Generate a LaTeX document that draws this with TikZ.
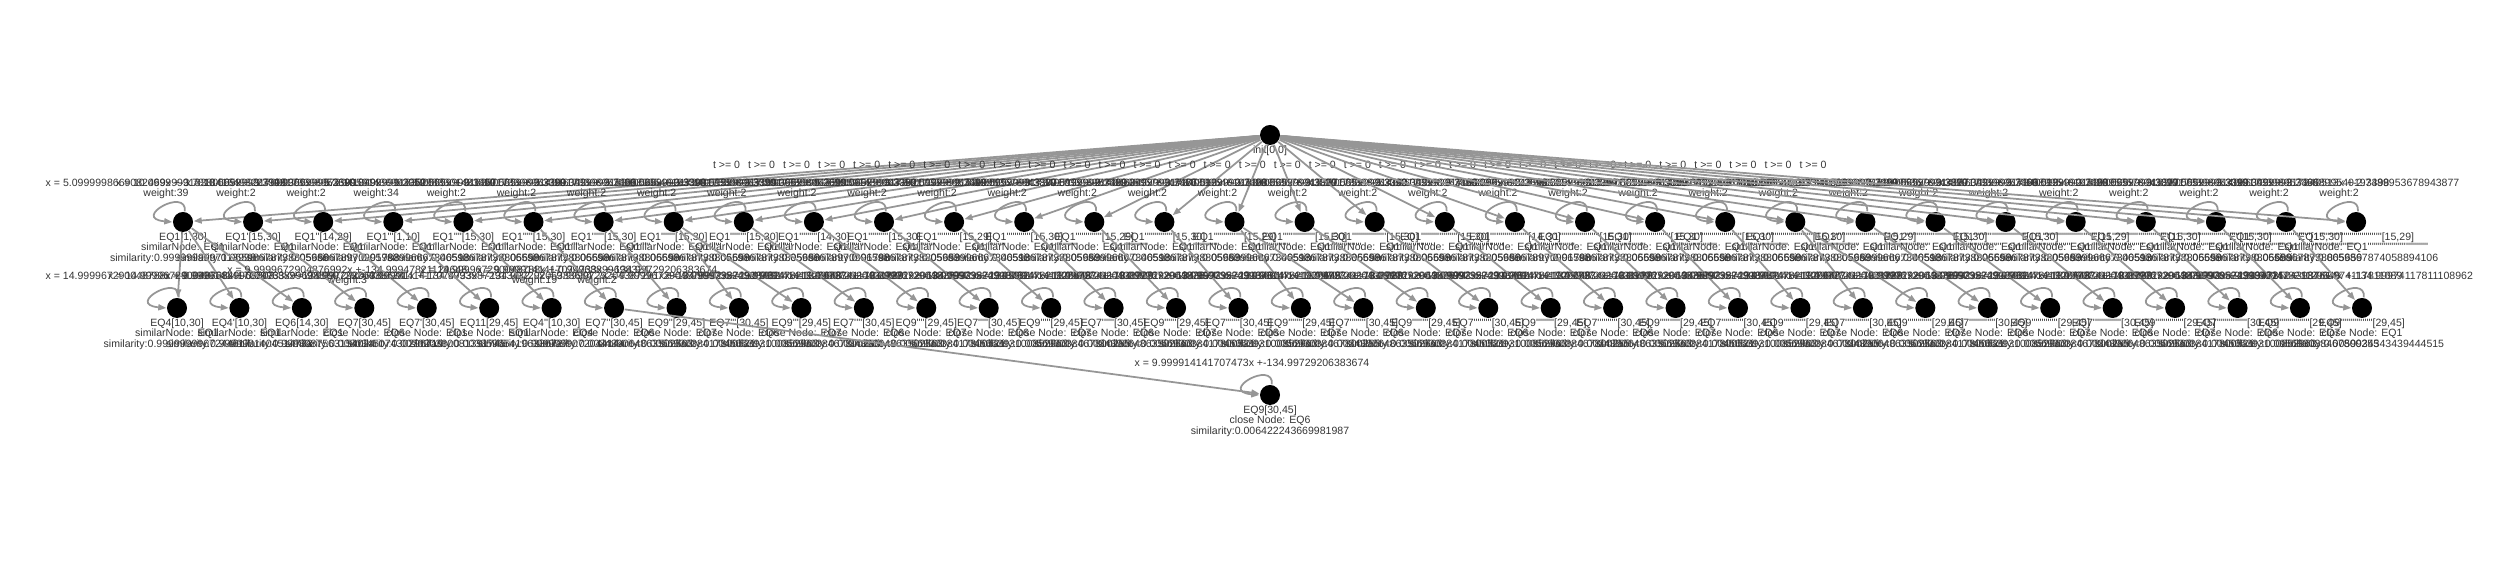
\documentclass[tikz,border=0pt]{standalone}
\usepackage{fontspec}
\newfontfamily\vis{Liberation Sans}
\usetikzlibrary{arrows.meta}
\definecolor{edgegray}{RGB}{150,150,150}
\definecolor{txt}{RGB}{52,52,52}
\newcount\prc
\newcommand\prm[1]{\prc=#1\relax\loop\ifnum\prc>0 \textquotesingle\advance\prc by -1 \repeat}
\newcommand\q{\textquotesingle}
\newcommand\selfloop[1]{\draw[edge] (#1.80) .. controls +(85:0.25cm) and +(175:0.42cm) .. (#1.180);}
\begin{document}
\begin{tikzpicture}[x=0.01cm,y=-0.01cm,
  vnode/.style={circle,fill=black,minimum size=0.2cm,inner sep=0pt},
  lbl/.style={font=\vis\fontsize{3}{3}\selectfont,text=txt,inner sep=0pt,align=center},
  edge/.style={draw=edgegray,line width=0.5pt,-{Triangle[length=0.8mm,width=0.6mm]}},
]
\useasboundingbox (0,0) rectangle (2500,562);

% root
\node[vnode] (root) at (1270,135) {};
\node[lbl,anchor=north] (root-l) at (1270,145) {init[0,0]};

% row 1
\foreach \iv/\w/\eq/\sm [count=\c from 0] in {
 {[1,30]}/39/{5.0999998669082469x +-3.7818416493227998}/{0.9999999997113998},
 {[15,30]}/2/{10.099999913380565x +-3.3399173398953399}/{0.06598678738805659},
 {[14,29]}/2/{10.099999917099366x +-5.2699591430993352}/{0.05986678970991788},
 {[1,10]}/34/{4.0999999972941849x +-1.2959983301431457}/{0.05983996667340513},
 {[15,30]}/2/{10.099999913380565x +-3.3399173398953399}/{0.06598678738805659},
 {[15,30]}/2/{10.099999913380565x +-3.3399173398953399}/{0.06598678738805659},
 {[15,30]}/2/{10.099999914866343x +-3.7466899540193398}/{0.06598678738805659},
 {[15,30]}/2/{10.099999913380565x +-3.3399173398953399}/{0.06598678738805659},
 {[15,30]}/2/{10.099999917340513x +-3.3399173398953399}/{0.06598678738805659},
 {[14,30]}/2/{10.099999917099366x +-5.2699591430993352}/{0.05986678970991788},
 {[15,30]}/2/{10.099999913380565x +-3.3399173398953399}/{0.06598678738805659},
 {[15,29]}/2/{10.099999917340513x +-2.7489953678943877}/{0.05983996667340513},
 {[15,30]}/2/{10.099999913380565x +-3.3399173398953399}/{0.06598678738805659},
 {[15,29]}/2/{10.099999917340513x +-2.7489953678943877}/{0.05983996667340513},
 {[15,30]}/2/{10.099999914866343x +-3.7466899540193398}/{0.06598678738805659},
 {[15,29]}/2/{10.099999917340513x +-2.7489953678943877}/{0.05983996667340513},
 {[15,30]}/2/{10.099999913380565x +-3.3399173398953399}/{0.06598678738805659},
 {[15,30]}/2/{10.099999913380565x +-3.3399173398953399}/{0.06598678738805659},
 {[15,30]}/2/{10.099999914866343x +-3.7466899540193398}/{0.06598678738805659},
 {[14,30]}/2/{10.099999917099366x +-5.2699591430993352}/{0.05986678970991788},
 {[15,30]}/2/{10.099999913380565x +-3.3399173398953399}/{0.06598678738805659},
 {[15,30]}/2/{10.099999913380565x +-3.3399173398953399}/{0.06598678738805659},
 {[15,30]}/2/{10.099999914866343x +-3.7466899540193398}/{0.06598678738805659},
 {[15,30]}/2/{10.099999913380565x +-3.3399173398953399}/{0.06598678738805659},
 {[15,29]}/2/{10.099999917340513x +-2.7489953678943877}/{0.05983996667340513},
 {[15,30]}/2/{10.099999913380565x +-3.3399173398953399}/{0.06598678738805659},
 {[15,30]}/2/{10.099999914866343x +-3.7466899540193398}/{0.06598678738805659},
 {[15,29]}/2/{10.099999917340513x +-2.7489953678943877}/{0.05983996667340513},
 {[15,30]}/2/{10.099999913380565x +-3.3399173398953399}/{0.06598678738805659},
 {[15,30]}/2/{10.099999913380565x +-3.3399173398953399}/{0.06598678738805659},
 {[15,30]}/2/{10.099999914866343x +-3.7466899540193398}/{0.06598678738805659},
 {[15,29]}/2/{10.099999917340513x +-2.7489953678943877}/{0.0659867874058894106}} {
  \pgfmathsetmacro\xx{183+70.1*\c}
  \pgfmathsetmacro\mx{(1270+\xx)/2}
  \node[vnode] (a\c) at (\xx,222) {};
  \node[lbl,anchor=north] (a\c-l) at (\xx,232) {EQ1\prm{\c}\iv\\similarNode: EQ1\prm{\numexpr\c-1}\\similarity:\sm};
  \node[lbl] (a\c-s) at (\xx-17,189) {x = \eq\\weight:\w};
  \node[lbl] (t\c) at (\mx,165) {t >= 0};
  \draw[edge] (root) -- (a\c);
  \selfloop{a\c}
}

% row 2, first nodes
\foreach \nm/\iv/\sn/\sm/\eq/\wl [count=\c from 0] in {
 {EQ4}/{[10,30]}/{similarNode: EQ1}/{0.9999999967244617}/{14.999967290048788x +-0.99966849968803}/{},
 {EQ4\q}/{[10,30]}/{similarNode: EQ1}/{0.9999981404514732}/{14.999967290048788x +-0.99968899698324}/{},
 {EQ6}/{[14,30]}/{similarNode: EQ1}/{0.9998987563154024}/{9.9999141417074733x +-134.99729206383674}/{},
 {EQ7}/{[30,45]}/{close Node: EQ6}/{0.008034507430296719}/{9.9999672904876992x +-134.99947821129648}/{\\weight:3},
 {EQ7\q}/{[30,45]}/{close Node: EQ1}/{0.007020330081391745}/{9.9999729204387281x +-134.99939872913432}/{},
 {EQ11}/{[29,45]}/{close Node: EQ1}/{0.003359654196336727}/{9.9999141417074733x +-134.99729206383674}/{},
 {EQ4\q\q}/{[10,30]}/{similarNode: EQ4}/{0.9999999072044144}/{14.999967290048788x +-0.99968899698324}/{\\weight:19}} {
  \pgfmathsetmacro\xx{177+62.44*\c}
  \pgfmathtruncatemacro\p{max(0,min(31,round((\xx-283)/70.1)))}
  \node[vnode] (b\c) at (\xx,308) {};
  \node[lbl,anchor=north] (b\c-l) at (\xx,318) {\nm\iv\\\sn\\similarity:\sm};
  \node[lbl] (b\c-s) at (\xx-17,276) {x = \eq\wl};
  \draw[edge] (a\p) -- (b\c);
  \selfloop{b\c}
}

% row 2, remaining nodes
\foreach \c in {7,...,34} {
  \pgfmathsetmacro\xx{177+62.44*\c}
  \pgfmathtruncatemacro\p{max(0,min(31,round((\xx-283)/70.1)))}
  \pgfmathtruncatemacro\k{(\c-3)/2}
  \pgfmathtruncatemacro\od{mod(\c,2)}
  \pgfmathtruncatemacro\vv{mod(\c,4)}
  \ifnum\od=1 \def\base{EQ7}\def\iv{[30,45]}\def\cn{EQ6}\else \def\base{EQ9}\def\iv{[29,45]}\def\cn{EQ7}\fi
  \node[vnode] (b\c) at (\xx,308) {};
  \node[lbl,anchor=north] (b\c-l) at (\xx,318) {\base\prm{\k}\iv\\close Node: \cn\\similarity:\ifcase\vv\relax 0.005693038417800521\or 0.004505393100852963\or 0.005693038467800255\or 0.003439064863502563\fi};
  \node[lbl] (b\c-s) at (\xx-17,276) {x = \ifcase\vv\relax 9.9999729204387281x +-134.99939872913432\or 9.9999672904876992x +-134.99947821129648\or 9.9999735243987614x +-134.99974117811089\or 9.9999141417074733x +-134.99729206383674\fi\ifnum\c=7\relax\\weight:2\fi};
  \draw[edge] (a\p) -- (b\c);
  \selfloop{b\c}
}
\node[vnode] (b35) at (2362,308) {};
\node[lbl,anchor=north] (b35-l) at (2362,318) {EQ9\prm{16}[29,45]\\close Node: EQ1\\similarity:0.0059934343439444515};
\node[lbl] (b35-s) at (2345,276) {x = 9.9999735243987614x +-134.99974117811108962};
\draw[edge] (a30) -- (b35);
\selfloop{b35}

% row 3
\node[vnode] (c0) at (1270,395) {};
\node[lbl,anchor=north] (c0-l) at (1270,405) {EQ9[30,45]\\close Node: EQ6\\similarity:0.006422243669981987};
\node[lbl] (c0-s) at (1252,363) {x = 9.999914141707473x +-134.99729206383674};
\draw[edge] (b7) -- (c0);
\selfloop{c0}
\end{tikzpicture}
\end{document}
